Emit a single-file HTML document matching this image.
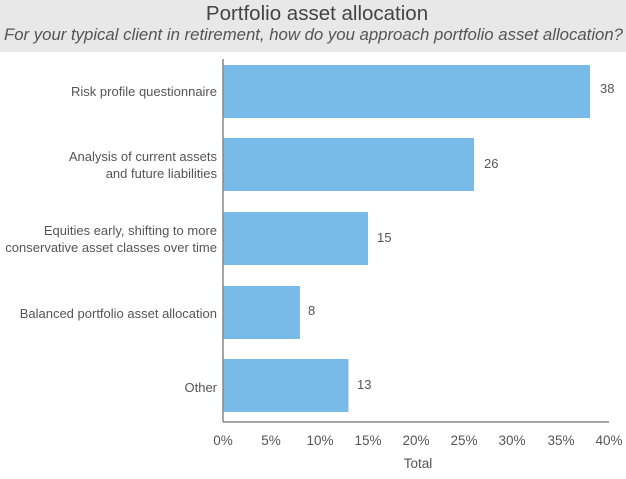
<!DOCTYPE html>
<html><head><style>
body{margin:0;width:626px;height:474px;background:#fff;overflow:hidden}
</style></head><body>
<svg width="626" height="474" xmlns="http://www.w3.org/2000/svg" font-family="Liberation Sans, sans-serif">
<rect x="0" y="0" width="626" height="52" fill="#e8e8e8"/>
<text x="317" y="20" text-anchor="middle" font-size="20.5" fill="#444">Portfolio asset allocation</text>
<text x="4" y="40" font-size="16.5" font-style="italic" fill="#555" textLength="619" lengthAdjust="spacingAndGlyphs">For your typical client in retirement, how do you approach portfolio asset allocation?</text>
<g fill="#79bbe8">
<rect x="223" y="65" width="367" height="53"/>
<rect x="223" y="138" width="251" height="53"/>
<rect x="223" y="212" width="145" height="53"/>
<rect x="223" y="286" width="77" height="53"/>
<rect x="223" y="359" width="125.5" height="53"/>
</g>
<line x1="223" y1="59" x2="223" y2="422" stroke="#888" stroke-width="1.5"/>
<line x1="223" y1="422" x2="609" y2="422" stroke="#888" stroke-width="1.5"/>
<g font-size="13" fill="#555" text-anchor="end">
<text x="217" y="96">Risk profile questionnaire</text>
<text x="217" y="161">Analysis of current assets</text>
<text x="217" y="178">and future liabilities</text>
<text x="217" y="235">Equities early, shifting to more</text>
<text x="217" y="252">conservative asset classes over time</text>
<text x="217" y="318">Balanced portfolio asset allocation</text>
<text x="217" y="392">Other</text>
</g>
<g font-size="13" fill="#555">
<text x="600" y="93">38</text>
<text x="484" y="168">26</text>
<text x="377" y="242">15</text>
<text x="308" y="315">8</text>
<text x="357" y="389">13</text>
</g>
<g font-size="13.5" fill="#555" text-anchor="middle">
<text x="223" y="445">0%</text>
<text x="271" y="445">5%</text>
<text x="320" y="445">10%</text>
<text x="368" y="445">15%</text>
<text x="416" y="445">20%</text>
<text x="464" y="445">25%</text>
<text x="512" y="445">30%</text>
<text x="561" y="445">35%</text>
<text x="609" y="445">40%</text>
<text x="418" y="468">Total</text>
</g>
</svg>
</body></html>
